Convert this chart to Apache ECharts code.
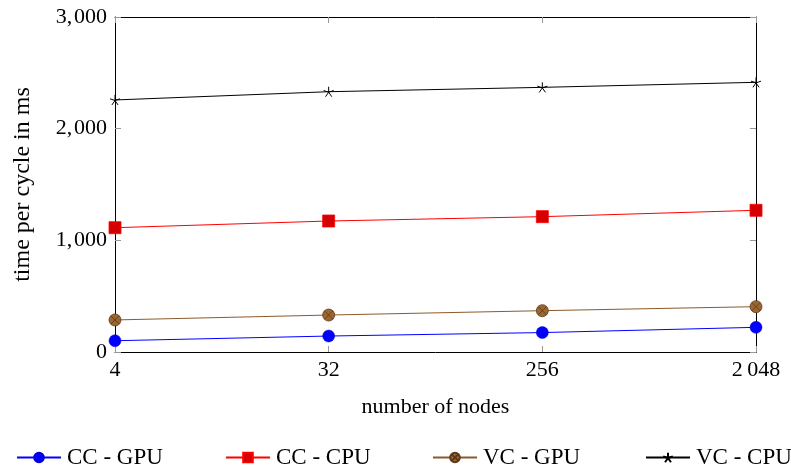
<!DOCTYPE html>
<html>
<head>
<meta charset="utf-8">
<script src="https://cdn.jsdelivr.net/npm/echarts@6/dist/echarts.min.js"></script>
<style>
  html, body { margin: 0; padding: 0; background: #fff; }
  #chart { width: 791px; height: 468px; }
</style>
</head>
<body>
<div id="chart"></div>
<script>
// Node counts on the x axis (powers of two, evenly spaced)
const nodeCounts = ['4', '32', '256', '2\u2009048'];
const yTicks = [0, 1000, 2000, 3000];
const yTickLabels = ['0', '1,\u200A000', '2,\u200A000', '3,\u200A000'];

// Time per cycle (ms) for each configuration
const ccGpu = [101, 143, 174, 221];
const ccCpu = [1113, 1173, 1212, 1269];
const vcGpu = [287, 331, 370, 406];
const vcCpu = [2257, 2331, 2370, 2415];

const FONT = '"Liberation Serif", "DejaVu Serif", serif';

// five-pointed asterisk, drawn as strokes only
const starPath = 'path://M0,0L0,-10M0,0L-9.51,-3.09M0,0L-5.88,8.09M0,0L5.88,8.09M0,0L9.51,-3.09';
// filled circle with a cross inside
const otimesPath = 'path://M10,0A10,10,0,1,1,-10,0A10,10,0,1,1,10,0ZM-7.07,-7.07L7.07,7.07M-7.07,7.07L7.07,-7.07';

const chart = echarts.init(document.getElementById('chart'), null, { renderer: 'canvas' });

const seriesDefs = [
  { name: 'CC - GPU', data: ccGpu, line: '#0000ff', symbol: 'circle', size: 12,
    item: { color: '#0000ff', borderColor: '#0000cc', borderWidth: 0.5 } },
  { name: 'CC - CPU', data: ccCpu, line: '#ff0000', symbol: 'rect', size: 12,
    item: { color: '#d50000', borderColor: '#ff0000', borderWidth: 0.8 } },
  { name: 'VC - GPU', data: vcGpu, line: '#8c5a2b', symbol: otimesPath, size: 12,
    item: { color: '#9c6631', borderColor: '#5a3a1a', borderWidth: 0.8 } },
  { name: 'VC - CPU', data: vcCpu, line: '#000000', symbol: starPath, size: 10,
    item: { color: 'none', borderColor: '#000000', borderWidth: 1 } }
];

const legendLefts = [11, 220, 427, 640];

const option = {
  backgroundColor: '#ffffff',
  animation: false,
  textStyle: { fontFamily: FONT },
  grid: { left: 115, right: 35, top: 17, bottom: 116 },
  legend: seriesDefs.map((s, i) => ({
    data: [s.name],
    left: legendLefts[i],
    top: 441,
    itemWidth: 44,
    itemHeight: 12,
    itemGap: 0,
    textStyle: { fontFamily: FONT, fontSize: 23, color: '#000', padding: [0, 0, 0, 1] },
    selectedMode: false
  })),
  xAxis: [
    {
      type: 'category',
      data: nodeCounts,
      boundaryGap: false,
      position: 'bottom',
      name: 'number of nodes',
      nameLocation: 'middle',
      nameGap: 44,
      nameTextStyle: { fontFamily: FONT, fontSize: 22, color: '#000' },
      axisLine: { show: true, onZero: false, lineStyle: { color: '#000', width: 1 } },
      axisTick: { show: true, inside: true, length: 6, lineStyle: { color: '#999' } },
      axisLabel: { fontFamily: FONT, fontSize: 22, color: '#000', margin: 7 },
      splitLine: { show: false }
    },
    {
      type: 'category',
      data: nodeCounts,
      boundaryGap: false,
      position: 'top',
      axisLine: { show: true, onZero: false, lineStyle: { color: '#000', width: 1 } },
      axisTick: { show: true, inside: true, length: 6, lineStyle: { color: '#999' } },
      axisLabel: { show: false },
      splitLine: { show: false }
    }
  ],
  yAxis: [
    {
      type: 'value',
      min: 0,
      max: 3000,
      interval: 1000,
      position: 'left',
      name: 'time per cycle in ms',
      nameLocation: 'middle',
      nameGap: 80,
      nameTextStyle: { fontFamily: FONT, fontSize: 24, color: '#000' },
      axisLine: { show: true, onZero: false, lineStyle: { color: '#000', width: 1 } },
      axisTick: { show: true, inside: true, length: 6, lineStyle: { color: '#999' } },
      axisLabel: {
        fontFamily: FONT, fontSize: 22, color: '#000', margin: 8,
        formatter: v => {
          const i = yTicks.indexOf(v);
          return i >= 0 ? yTickLabels[i] : '';
        }
      },
      splitLine: { show: false }
    },
    {
      type: 'value',
      min: 0,
      max: 3000,
      interval: 1000,
      position: 'right',
      axisLine: { show: true, onZero: false, lineStyle: { color: '#000', width: 1 } },
      axisTick: { show: true, inside: true, length: 6, lineStyle: { color: '#999' } },
      axisLabel: { show: false },
      splitLine: { show: false }
    }
  ],
  series: seriesDefs.map(s => ({
    name: s.name,
    type: 'line',
    xAxisIndex: 0,
    yAxisIndex: 0,
    data: s.data,
    symbol: s.symbol,
    symbolSize: s.size,
    showAllSymbol: true,
    lineStyle: { color: s.line, width: 1 },
    itemStyle: s.item,
    z: 3
  }))
};

chart.setOption(option);
</script>
</body>
</html>
